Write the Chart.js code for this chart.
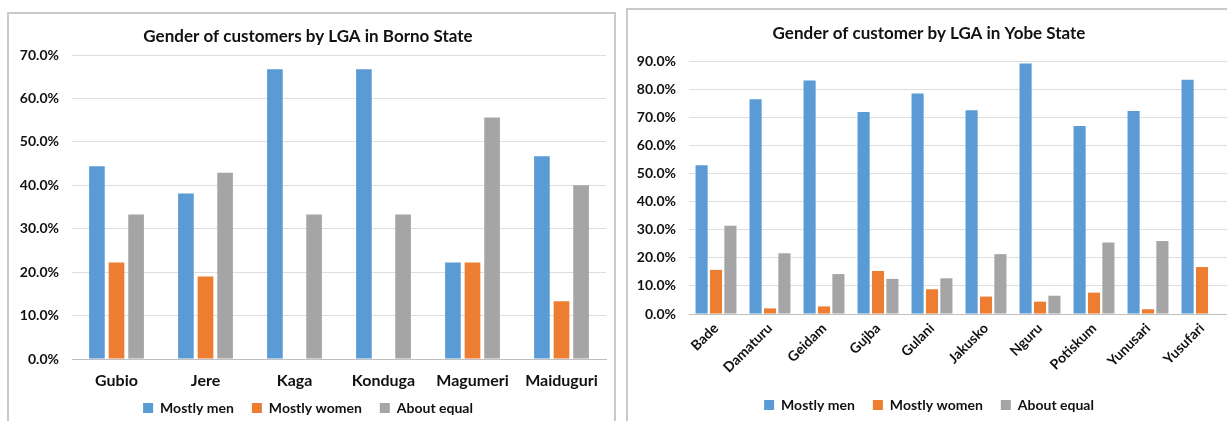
<!DOCTYPE html>
<html>
<head>
<meta charset="utf-8">
<script src="https://cdn.jsdelivr.net/npm/chart.js@4.4.1/dist/chart.umd.min.js"></script>
<style>
  html, body { margin: 0; padding: 0; background: #fff; overflow: hidden; width: 1227px; height: 421px; }
  .panel { position: absolute; box-sizing: border-box; border: 2px solid #c9c9c9; background: #fff; }
  #bornoPanel { left: 7px; top: 12px; width: 609px; height: 430px; }
  #yobePanel { left: 626px; top: 8px; width: 620px; height: 430px; }
  canvas { position: absolute; }
  #borno { left: 10px; top: 15px; }
  #yobe { left: 629px; top: 11px; }
</style>
</head>
<body>
<div class="panel" id="bornoPanel"></div>
<div class="panel" id="yobePanel"></div>
<canvas id="borno" width="603" height="417" style="width:603px;height:417px"></canvas>
<canvas id="yobe" width="612" height="411" style="width:612px;height:411px"></canvas>
<script>
// Borno State LGAs (percent of customers)
const bornoLgas = ['Gubio', 'Jere', 'Kaga', 'Konduga', 'Magumeri', 'Maiduguri'];
const bornoMen = [44.4, 38.1, 66.7, 66.7, 22.2, 46.7];
const bornoWomen = [22.2, 19.0, 0, 0, 22.2, 13.3];
const bornoEqual = [33.3, 42.9, 33.3, 33.3, 55.6, 40.0];

// Yobe State LGAs (percent of customers)
const yobeLgas = ['Bade', 'Damaturu', 'Geidam', 'Gujba', 'Gulani', 'Jakusko', 'Nguru', 'Potiskum', 'Yunusari', 'Yusufari'];
const yobeMen = [52.9, 76.4, 83.1, 71.9, 78.4, 72.5, 89.1, 66.9, 72.2, 83.3];
const yobeWomen = [15.7, 2.0, 2.7, 15.3, 8.8, 6.2, 4.4, 7.6, 1.7, 16.7];
const yobeEqual = [31.4, 21.6, 14.2, 12.5, 12.7, 21.3, 6.5, 25.4, 26.0, 0];

const seriesNames = ['Mostly men', 'Mostly women', 'About equal'];
const seriesColors = ['#5b9bd5', '#ed7d31', '#a5a5a5'];
const FONT = 'Lato, "Open Sans", sans-serif';
const TEXT = '#111111';

// Lets the legend sit a little closer to the axis labels than its padding allows
const legendNudge = {
  id: 'legendNudge',
  afterLayout(chart, args, opts) {
    const dy = opts.dy || 0;
    if (chart.legend && dy) {
      chart.legend.top += dy;
      chart.legend.bottom += dy;
    }
  }
};

function makeChart(id, cfg) {
  const datasets = cfg.series.map((vals, i) => ({
    label: seriesNames[i],
    data: vals,
    backgroundColor: seriesColors[i],
    borderWidth: 0,
    barPercentage: cfg.barPct,
    categoryPercentage: cfg.catPct
  }));
  return new Chart(document.getElementById(id), {
    type: 'bar',
    data: { labels: cfg.labels, datasets },
    plugins: [legendNudge],
    options: {
      responsive: false,
      animation: false,
      events: [],
      layout: { padding: { left: 0, right: cfg.padRight, top: 0, bottom: 0 } },
      plugins: {
        tooltip: { enabled: false },
        legendNudge: { dy: cfg.legendDy },
        title: {
          display: true,
          text: cfg.title,
          color: TEXT,
          font: { family: FONT, size: 17, weight: 'bold', lineHeight: 1.2 },
          padding: { top: cfg.titleTop, bottom: cfg.titleGap }
        },
        legend: {
          position: 'bottom',
          labels: {
            color: TEXT,
            font: { family: FONT, size: 14, weight: 'bold' },
            boxWidth: 10,
            boxHeight: 10,
            padding: 18
          }
        }
      },
      scales: {
        x: {
          grid: { display: false, drawTicks: false },
          border: { display: true, color: '#bfbfbf', width: 1 },
          ticks: {
            color: TEXT,
            autoSkip: false,
            minRotation: cfg.rotation,
            maxRotation: cfg.rotation,
            padding: cfg.xPad,
            font: { family: FONT, size: cfg.xFont, weight: 'bold' }
          },
          afterFit(scale) { scale.height = cfg.xHeight; }
        },
        y: {
          min: 0,
          max: cfg.max,
          grid: { color: '#dedede', drawTicks: false },
          border: { display: false },
          ticks: {
            stepSize: 10,
            color: TEXT,
            padding: 13,
            font: { family: FONT, size: 14, weight: 'bold' },
            callback: (v) => v.toFixed(1) + '%'
          },
          afterFit(scale) { scale.width = cfg.yWidth; }
        }
      }
    }
  });
}

makeChart('borno', {
  labels: bornoLgas,
  series: [bornoMen, bornoWomen, bornoEqual],
  title: 'Gender of customers by LGA in Borno State',
  max: 70,
  barPct: 0.8,
  catPct: 0.66,
  padRight: 7,
  titleTop: 11,
  titleGap: 8.6,
  rotation: 0,
  xPad: 12,
  xFont: 16,
  xHeight: 31,
  legendDy: -7,
  yWidth: 62
});

makeChart('yobe', {
  labels: yobeLgas,
  series: [yobeMen, yobeWomen, yobeEqual],
  title: 'Gender of customer by LGA in Yobe State',
  max: 90,
  barPct: 0.84,
  catPct: 0.8,
  padRight: 12,
  titleTop: 12,
  titleGap: 17.6,
  rotation: 45,
  xPad: 6,
  xFont: 14,
  xHeight: 66,
  legendDy: 0,
  yWidth: 60
});
</script>
</body>
</html>
